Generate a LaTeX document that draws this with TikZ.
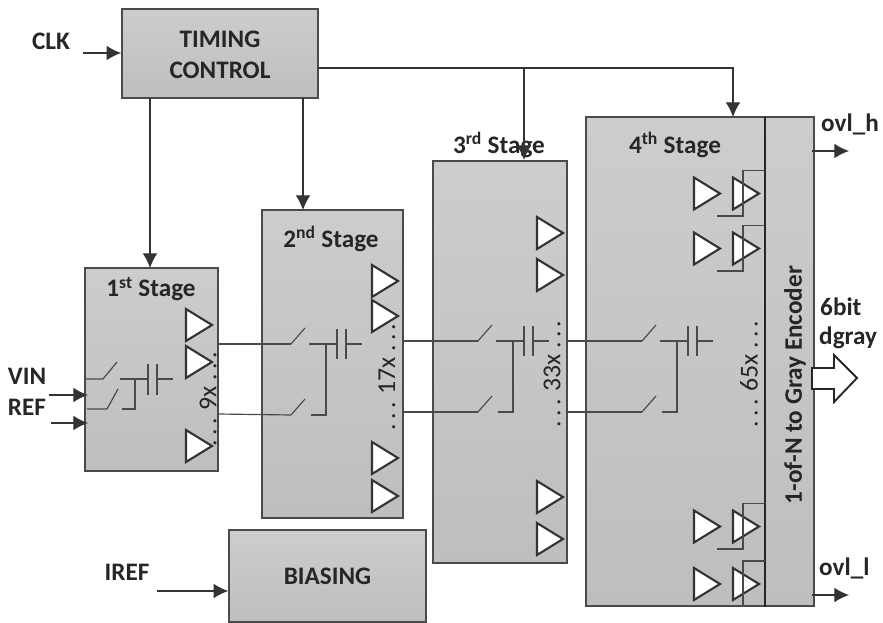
\documentclass[tikz,border=0pt]{standalone}
\usepackage{fontspec}
\setmainfont{Carlito}
\usepackage{xcolor}
\usetikzlibrary{
    arrows.meta,
    calc,
    positioning
}
\definecolor{stagetop}{HTML}{CDCDCD}
\definecolor{stagebot}{HTML}{BEBEBE}
\definecolor{linegray}{HTML}{4A4A4A}
\tikzset{
    px/.style={x=0.03cm, y=-0.03cm},
    stagebox/.style={draw=linegray, line width=1.3pt, top color=stagetop, bottom color=stagebot},
    lbl/.style={font=\bfseries\fontsize{21.5}{26.4}\selectfont, text=black!85, inner sep=0pt},
    wire/.style={draw=linegray, line width=1pt},
    sig/.style={draw=black!80, line width=1pt, -{Latex[length=12.5pt, width=12.5pt]}},
    buf/.style={draw=black!80, line width=1.8pt, fill=white, line join=miter},
    count/.style={font=\fontsize{22}{24}\selectfont, text=black!85, rotate=90, inner sep=0pt},
    pics/swcap/.style={code={
        \coordinate (-a) at (0, 0);
        \coordinate (-b) at (0, 71);
        \draw[wire] (0, 0) -- (14, -16);
        \draw[wire] (0, 71) -- (14, 55);
        \draw[wire] (18, 0) -- (46, 0) (55, 0) -- (71, 0);
        \draw[wire] (46, -15) -- (46, 15) (55, -15) -- (55, 15);
        \draw[wire] (35, 0) -- (35, 71) -- (20, 71);
    }}
}
\newcommand{\tribuf}[2]{\draw[buf] (#1, #2-16) -- (#1+26, #2) -- (#1, #2+16) -- cycle;}
\begin{document}
\begin{tikzpicture}[px]
    \useasboundingbox (0, 0) rectangle (883, 623);
    % blocks
    \node[stagebox, minimum width=5.88cm, minimum height=2.67cm, inner sep=0pt] (tc) at (220, 53.5) {};
    \node[stagebox, minimum width=3.99cm, minimum height=6.09cm, inner sep=0pt] (st1) at (151.5, 369.5) {};
    \node[stagebox, minimum width=4.23cm, minimum height=9.24cm, inner sep=0pt] (st2) at (332.5, 364) {};
    \node[stagebox, minimum width=4.02cm, minimum height=12.06cm, inner sep=0pt] (st3) at (500, 362) {};
    \node[stagebox, minimum width=6.84cm, minimum height=14.67cm, inner sep=0pt] (st4) at (700, 361.5) {};
    \node[stagebox, minimum width=5.91cm, minimum height=2.76cm, inner sep=0pt] (bias) at (327.5, 576) {};
    \coordinate (div) at (765, 117);
    \draw[draw=black!85, line width=1.6pt] (div) -- (div |- st4.south);

    % block labels
    \node[lbl, align=center] at (220, 55) {TIMING\\CONTROL};
    \node[lbl] at (bias) {BIASING};
    \node[lbl] at (151, 289) {1\textsuperscript{st} Stage};
    \node[lbl] at (331, 239) {2\textsuperscript{nd} Stage};
    \node[lbl] at (499, 145) {3\textsuperscript{rd} Stage};
    \node[lbl] at (675, 145) {4\textsuperscript{th} Stage};
    \node[lbl, rotate=90] at (795, 385) {1-of-N to Gray Encoder};

    % port labels
    \node[lbl] at (51, 41) {CLK};
    \node[lbl] at (27, 376) {VIN};
    \node[lbl] at (27, 407) {REF};
    \node[lbl] at (127, 572) {IREF};
    \node[lbl, anchor=west] at (821, 124) {ovl\_h};
    \node[lbl, anchor=west] at (820, 307) {6bit};
    \node[lbl, anchor=west] at (819, 338) {dgray};
    \node[lbl, anchor=west] at (819, 568) {ovl\_l};

    % buffers
    \foreach \yy in {325, 362, 446} {\tribuf{186}{\yy}}
    \foreach \yy in {281, 316, 458, 496} {\tribuf{372}{\yy}}
    \foreach \yy in {233, 275, 497, 539} {\tribuf{537}{\yy}}
    \foreach \yy in {193.5, 248.5, 526.5, 584} {
        \tribuf{694}{\yy}
        \tribuf{733}{\yy}
        \draw[wire] (765, \yy-23) -- (743, \yy-23) -- (743, \yy+22.5) -- (717, \yy+22.5);
    }

    % counts
    \node[count] at (208, 399) {.\,.\,. 9x .\,.\,.};
    \node[count] at (387, 377) {.\,.\,. 17x .\,.\,.};
    \node[count] at (552, 374) {.\,.\,. 33x .\,.\,.};
    \node[count] at (749, 374) {.\,.\,. 65x .\,.\,.};

    % switches of stage 1
    \coordinate (in1) at (85, 379);
    \coordinate (in2) at (87, 409);
    \draw[wire] (in1) -- (103, 379) -- (117, 362);
    \draw[wire] (in2) -- (107, 409) -- (118, 389);
    \draw[wire] (120, 379) -- (148, 379) (157, 379) -- (173, 379);
    \draw[wire] (148, 364) -- (148, 395) (157, 364) -- (157, 395);
    \draw[wire] (135, 379) -- (135, 409) -- (122, 409);

    % switches of stage 2 to 4
    \pic (sw2) at (291, 344) {swcap};
    \pic (sw3) at (478, 341) {swcap};
    \pic (sw4) at (642, 341) {swcap};
    \coordinate (o1a) at (218, 344);
    \coordinate (o1b) at (218, 414);
    \coordinate (o2a) at (403, 341);
    \coordinate (o2b) at (403, 412);
    \coordinate (o3a) at (567, 341);
    \coordinate (o3b) at (567, 412);
    \draw[wire] (o1a) -- (sw2-a);
    \draw[wire] (o1b) -- (sw2-b);
    \draw[wire] (o2a) -- (sw3-a);
    \draw[wire] (o2b) -- (sw3-b);
    \draw[wire] (o3a) -- (sw4-a);
    \draw[wire] (o3b) -- (sw4-b);

    % control and signal arrows
    \coordinate (clk) at (83, 53);
    \coordinate (vin) at (49, 395);
    \coordinate (ref) at (51, 423);
    \coordinate (iref) at (157, 591);
    \coordinate (tap) at (524, 68);
    \draw[sig] (clk) -- (clk -| tc.west);
    \draw[sig] (vin) -- (88, 395);
    \draw[sig] (ref) -- (88, 423);
    \draw[sig] (iref) -- (iref -| bias.west);
    \draw[sig] (150, 98) -- (150, 268);
    \draw[sig] (303, 98) -- (303, 210);
    \draw[sig] (318, 68) -- (733, 68) -- (733, 117);
    \draw[sig] (tap) -- (524, 160);
    \draw[sig] (812, 151) -- (849, 151);
    \draw[sig] (812, 595) -- (849, 595);
    \draw[draw=black!85, line width=1.6pt, fill=white] (812, 368) -- (834, 368) -- (834, 355) -- (857, 378) -- (834, 402) -- (834, 389) -- (812, 389) -- cycle;
\end{tikzpicture}
\end{document}
